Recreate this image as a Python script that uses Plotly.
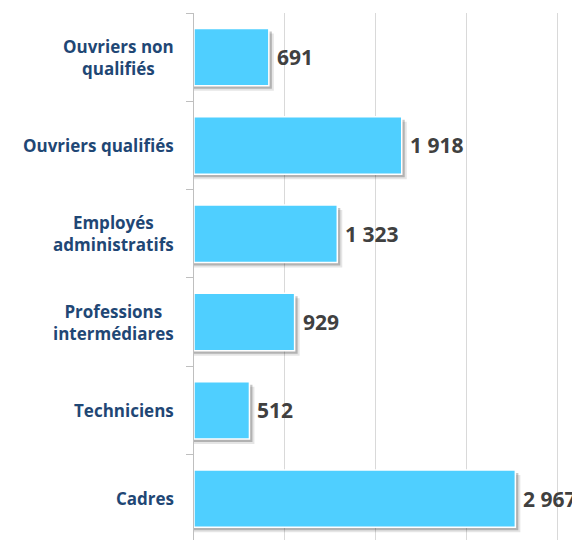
import plotly.graph_objects as go

# Data (bottom to top)
categories = ["Cadres", "Techniciens", "Professions intermédiares", "Employés administratifs",
              "Ouvriers qualifiés", "Ouvriers non qualifiés"]
label_text = ["Cadres", "Techniciens", "Professions<br>intermédiares", "Employés<br>administratifs",
              "Ouvriers qualifiés", "Ouvriers non<br>qualifiés"]
values = [2967, 512, 929, 1323, 1918, 691]

BAR = "#4FCFFF"
LABEL_BLUE = "#1F4775"
VALUE_GRAY = "#404040"
W = 0.65
FIG_W, FIG_H = 572, 532   # page body has an 8px margin
ML, MR, MT = 186, 8, 5
XMAX = 3490
px_per_unit = (FIG_W - ML - MR) / XMAX
px_per_cat = (FIG_H - MT) / 5.968

fig = go.Figure()

# soft shadow layers
for dpx, alpha in [(5, 0.10), (3, 0.22)]:
    dx = dpx / px_per_unit
    dy = dpx / px_per_cat
    fig.add_trace(go.Bar(
        y=categories, x=[v + dx for v in values], orientation="h",
        width=W, offset=-W / 2 - dy,
        marker=dict(color=f"rgba(0,0,0,{alpha})", line=dict(width=0)),
        hoverinfo="skip", showlegend=False))

fig.add_trace(go.Bar(
    y=categories, x=values, orientation="h",
    width=W, offset=-W / 2,
    marker=dict(color=BAR, line=dict(color="white", width=1.5)),
    showlegend=False))

annotations = []
for cat, lab, v in zip(categories, label_text, values):
    annotations.append(dict(
        x=0, xref="x", y=cat, yref="y", text=f"<b>{lab}</b>", showarrow=False,
        xanchor="right", align="center", xshift=-18,
        font=dict(family="Open Sans", size=17, color=LABEL_BLUE)))
    annotations.append(dict(
        x=v, xref="x", y=cat, yref="y", text=f"<b>{v:,}</b>".replace(",", " "),
        showarrow=False, xanchor="left", xshift=6,
        font=dict(family="Open Sans", size=21, color=VALUE_GRAY)))

fig.update_layout(
    width=FIG_W, height=FIG_H,
    margin=dict(l=ML, r=MR, t=MT, b=0),
    paper_bgcolor="white", plot_bgcolor="white",
    barmode="overlay",
    annotations=annotations,
    xaxis=dict(range=[0, XMAX], dtick=838, tick0=0, showgrid=True, gridcolor="#D9D9D9",
               gridwidth=1, showticklabels=False, zeroline=False, showline=False),
    yaxis=dict(range=[-0.468, 5.5], showline=True, linecolor="#BFBFBF", linewidth=1,
               ticks="outside", tickson="boundaries", ticklen=7, tickcolor="#BFBFBF",
               showticklabels=False, showgrid=False, zeroline=False),
)

fig.write_html("out.html")
